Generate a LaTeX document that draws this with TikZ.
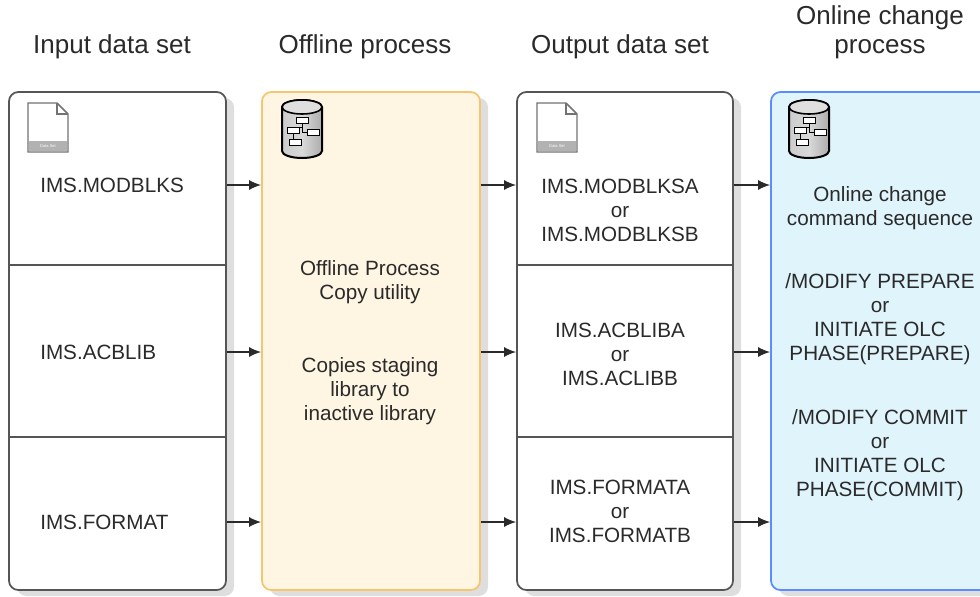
\documentclass[tikz,border=0pt]{standalone}
\usepackage{fontspec}
\setmainfont{Liberation Sans}
\usetikzlibrary{arrows.meta,shadows}
\definecolor{edgegray}{HTML}{555555}
\definecolor{inkgray}{HTML}{2A2A2A}
\definecolor{offfill}{HTML}{FEF5E3}
\definecolor{offedge}{HTML}{F7C56E}
\definecolor{olcfill}{HTML}{E0F4FC}
\definecolor{olcedge}{HTML}{5B8CFF}
\tikzset{
  setbox/.style={draw=edgegray, line width=1.3pt, rounded corners=7pt, fill=white,
    minimum height=373.5pt,
    drop shadow={shadow xshift=6pt, shadow yshift=-4.5pt, fill=black!13, opacity=1}},
  title/.style={font=\fontsize{19.5}{21.75}\selectfont, text=inkgray, align=center},
  txt/.style={font=\fontsize{15.5}{18}\selectfont, text=inkgray, align=center, inner sep=0pt},
  divline/.style={draw=edgegray, line width=1.1pt},
  flow/.style={draw=inkgray, line width=1.1pt, -{Latex[length=9pt,width=7.5pt]}},
  pics/docicon/.style={code={
    \draw[gray!90!black, line width=1.1pt, fill=white] (0,0) -- (29,0) -- (40,11) -- (40,49) -- (0,49) -- cycle;
    \draw[gray!90!black, line width=0.9pt] (29,0) -- (29,11) -- (40,11);
    \fill[gray!60] (1,38) rectangle (39,48);
    \node[text=white, font=\fontsize{3}{3}\selectfont, inner sep=0pt] (-tag) at (20,43) {Data Set};
  }},
  pics/dbicon/.style={code={
    \draw[black, line width=1.5pt, left color=gray!40, right color=gray!65, middle color=gray!30]
      (0,7) -- (0,51) arc[start angle=180, end angle=360, x radius=15pt, y radius=5.25pt]
      -- (40,7) arc[start angle=0, end angle=180, x radius=15pt, y radius=5.25pt] -- cycle;
    \draw[black, line width=1.2pt, fill=gray!25] (20,7) ellipse [x radius=15pt, y radius=5.25pt];
    \draw[black, line width=0.6pt] (20,23) -- (20,27) -- (11,27) -- (11,39);
    \draw[black, line width=0.6pt] (20,27) -- (20,32) -- (25,32);
    \draw[black, line width=0.6pt, fill=white] (14,17) rectangle (26,23);
    \draw[black, line width=0.6pt, fill=white] (5,27) rectangle (17,33);
    \draw[black, line width=0.6pt, fill=white] (25,29) rectangle (37,35);
    \draw[black, line width=0.6pt, fill=white] (7,39) rectangle (19,45);
  }}
}
\begin{document}
\begin{tikzpicture}[x=0.75pt, y=-0.75pt]
\useasboundingbox (0,0) rectangle (980,596);
%titles
\node[title] (intitle) at (112,47) {Input data set};
\node[title] (offtitle) at (365,47) {Offline process};
\node[title] (outtitle) at (620,47) {Output data set};
\node[title] (olctitle) at (880,32) {Online change\\process};
%boxes
\node[setbox, minimum width=162.75pt] (inbox) at (117.5,341) {};
\node[setbox, minimum width=163.5pt, draw=offedge, fill=offfill] (offbox) at (371,341) {};
\node[setbox, minimum width=162pt] (outbox) at (625,341) {};
\node[setbox, minimum width=168pt, draw=olcedge, fill=olcfill] (olcbox) at (883,341) {};
%row lines
\draw[divline] (inbox.west |- 0,265) -- (inbox.east |- 0,265);
\draw[divline] (inbox.west |- 0,437) -- (inbox.east |- 0,437);
\draw[divline] (outbox.west |- 0,265) -- (outbox.east |- 0,265);
\draw[divline] (outbox.west |- 0,437) -- (outbox.east |- 0,437);
%icons
\pic (indoc) at (28,103) {docicon};
\pic (outdoc) at (537,103) {docicon};
\pic (offdb) at (282,100) {dbicon};
\pic (olcdb) at (789,100) {dbicon};
%input data sets
\node[txt, anchor=west] (modblks) at (40,185) {IMS.MODBLKS};
\node[txt, anchor=west] (acblib) at (40,352) {IMS.ACBLIB};
\node[txt, anchor=west] (format) at (40,522) {IMS.FORMAT};
%offline process
\node[txt] (copyutil) at (370,282) {Offline Process\\Copy utility};
\node[txt] (copies) at (370,391) {Copies staging\\library to\\inactive library};
%output data sets
\node[txt] (modout) at (620,210) {IMS.MODBLKSA\\or\\IMS.MODBLKSB};
\node[txt] (acbout) at (620,354) {IMS.ACBLIBA\\or\\IMS.ACLIBB};
\node[txt] (formout) at (620,511) {IMS.FORMATA\\or\\IMS.FORMATB};
%online change
\node[txt] (cmdseq) at (880,208) {Online change\\command sequence};
\node[txt] (prepare) at (880,319) {/MODIFY PREPARE\\or\\INITIATE OLC\\PHASE(PREPARE)};
\node[txt] (commit) at (880,455) {/MODIFY COMMIT\\or\\INITIATE OLC\\PHASE(COMMIT)};
%arrows
\draw[flow] (inbox.east |- modblks) -- (offbox.west |- modblks);
\draw[flow] (inbox.east |- acblib) -- (offbox.west |- acblib);
\draw[flow] (inbox.east |- format) -- (offbox.west |- format);
\draw[flow] (offbox.east |- modblks) -- (outbox.west |- modblks);
\draw[flow] (offbox.east |- acblib) -- (outbox.west |- acblib);
\draw[flow] (offbox.east |- format) -- (outbox.west |- format);
\draw[flow] (outbox.east |- modblks) -- (olcbox.west |- modblks);
\draw[flow] (outbox.east |- acblib) -- (olcbox.west |- acblib);
\draw[flow] (outbox.east |- format) -- (olcbox.west |- format);
\end{tikzpicture}
\end{document}
